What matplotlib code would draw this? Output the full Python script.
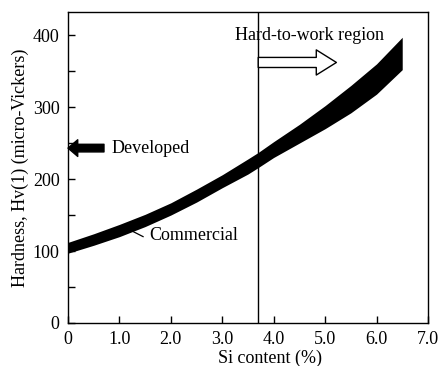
import matplotlib
matplotlib.use('Agg')
import matplotlib.pyplot as plt
from matplotlib.ticker import MultipleLocator

plt.rcParams['font.family'] = ['Liberation Serif', 'DejaVu Serif']

# hardness band of commercial sheet vs. Si content
si = [0.0, 0.5, 1.0, 1.5, 2.0, 2.5, 3.0, 3.5, 3.7, 4.0, 4.5, 5.0, 5.5, 6.0, 6.5]
hv_low = [97, 108, 120, 134, 150, 168, 188, 207, 216, 230, 250, 270, 292, 318, 352]
hv_high = [112, 124, 137, 151, 167, 186, 206, 228, 237, 252, 276, 302, 330, 360, 397]

si_limit = 3.7          # boundary of the hard-to-work region
developed_hv = 243      # hardness level of the developed material

xticks = [0, 1, 2, 3, 4, 5, 6, 7]
xtick_labels = ['0', '1.0', '2.0', '3.0', '4.0', '5.0', '6.0', '7.0']
yticks = [0, 100, 200, 300, 400]

fs = 13

fig = plt.figure(figsize=(4.43, 3.66), dpi=100)
ax = fig.add_axes([0.1535, 0.1175, 0.8125, 0.8495])

ax.fill_between(si, hv_low, hv_high, color='black', linewidth=0)
ax.axvline(si_limit, color='black', linewidth=1.0)

# filled arrow pointing at the axis: developed material
ax.annotate('', xy=(0.0, developed_hv), xytext=(0.7, developed_hv),
            arrowprops=dict(arrowstyle='simple,head_length=0.7,head_width=1.2,tail_width=0.55',
                            mutation_scale=10, color='black', shrinkA=0, shrinkB=0))
ax.text(0.85, developed_hv, 'Developed', fontsize=fs, va='center', ha='left')

# hollow arrow for the hard-to-work region
ax.annotate('', xy=(5.22, 362), xytext=(si_limit, 362),
            arrowprops=dict(arrowstyle='simple,head_length=1.0,head_width=1.25,tail_width=0.5',
                            mutation_scale=14.5, facecolor='white', edgecolor='black',
                            linewidth=1.0, shrinkA=0, shrinkB=0))
ax.text(3.25, 400, 'Hard-to-work region', fontsize=fs, va='center', ha='left')

# leader line to the commercial band
ax.plot([1.24, 1.46], [128, 120], color='black', linewidth=0.9)
ax.text(1.58, 122, 'Commercial', fontsize=fs, va='center', ha='left')

ax.set_xlim(0, 7)
ax.set_ylim(0, 432)
ax.set_xticks(xticks)
ax.set_xticklabels(xtick_labels)
ax.set_yticks(yticks)
ax.yaxis.set_minor_locator(MultipleLocator(50))
ax.tick_params(axis='both', which='both', direction='in', labelsize=fs,
               top=False, right=False, width=1.0)
ax.tick_params(axis='both', which='major', length=5, pad=6)
ax.tick_params(axis='y', which='minor', length=5)
ax.tick_params(axis='x', which='minor', bottom=False)

for sp in ax.spines.values():
    sp.set_linewidth(1.0)

ax.set_xlabel('Si content (%)', fontsize=fs, labelpad=1)
ax.xaxis.set_label_coords(0.56, -0.085)
ax.set_ylabel('Hardness, Hv(1) (micro-Vickers)', fontsize=fs, labelpad=3)

fig.savefig('out.png', dpi=100)
